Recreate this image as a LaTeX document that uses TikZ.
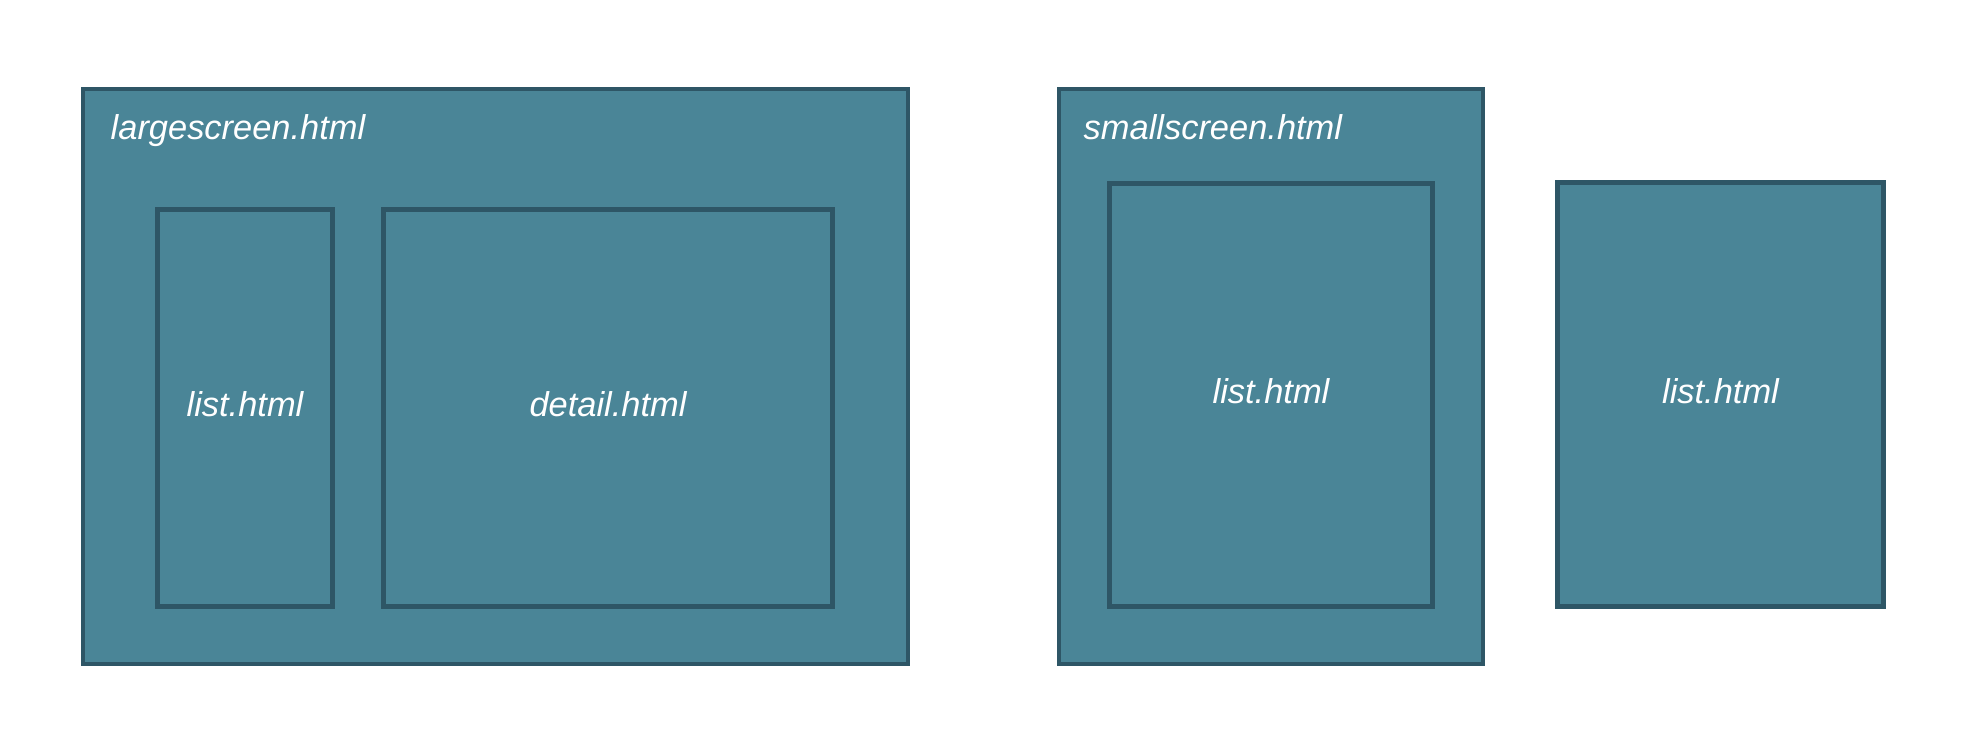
\documentclass[tikz,border=0pt]{standalone}
\usepackage{xcolor}
\usepackage{fontspec}
\setmainfont{Liberation Sans}
\usepackage{tikz}
\usetikzlibrary{calc}

\definecolor{panefill}{HTML}{4A8597}
\definecolor{paneline}{HTML}{2E5666}

\begin{document}
\begin{tikzpicture}[line join=miter,
  outerpane/.style={fill=panefill,draw=paneline,line width=1.15pt},
  innerpane/.style={fill=panefill,draw=paneline,line width=1.4pt},
  panetext/.style={text=white,font=\fontsize{9.8}{12}\selectfont\itshape,inner sep=0pt}]
  \useasboundingbox (0.000,0.000) rectangle (19.820,-7.560);
  \coordinate (LG0) at (0.830,-0.890);
  \coordinate (LG1) at (9.080,-6.640);
  \coordinate (LL0) at (1.575,-2.095);
  \coordinate (LL1) at (3.325,-6.065);
  \coordinate (LD0) at (3.835,-2.095);
  \coordinate (LD1) at (8.325,-6.065);
  \coordinate (SM0) at (10.590,-0.890);
  \coordinate (SM1) at (14.830,-6.640);
  \coordinate (SL0) at (11.095,-1.835);
  \coordinate (SL1) at (14.325,-6.065);
  \coordinate (ST0) at (15.575,-1.825);
  \coordinate (ST1) at (18.835,-6.065);
  \draw[outerpane] (LG0) rectangle (LG1);
  \draw[innerpane] (LL0) rectangle (LL1);
  \draw[innerpane] (LD0) rectangle (LD1);
  \draw[outerpane] (SM0) rectangle (SM1);
  \draw[innerpane] (SL0) rectangle (SL1);
  \draw[innerpane] (ST0) rectangle (ST1);
  \node[panetext,anchor=base west] (lgtitle) at (1.100,-1.390) {largescreen.html};
  \node[panetext,anchor=base west] (smtitle) at (10.830,-1.390) {smallscreen.html};
  \node[panetext,yshift=1pt] (lglist) at ($(LL0)!0.5!(LL1)$) {list.html};
  \node[panetext,yshift=1pt] (lgdetail) at ($(LD0)!0.5!(LD1)$) {detail.html};
  \node[panetext,yshift=1pt] (smlist) at ($(SL0)!0.5!(SL1)$) {list.html};
  \node[panetext,yshift=1pt] (stlist) at ($(ST0)!0.5!(ST1)$) {list.html};
\end{tikzpicture}
\end{document}
